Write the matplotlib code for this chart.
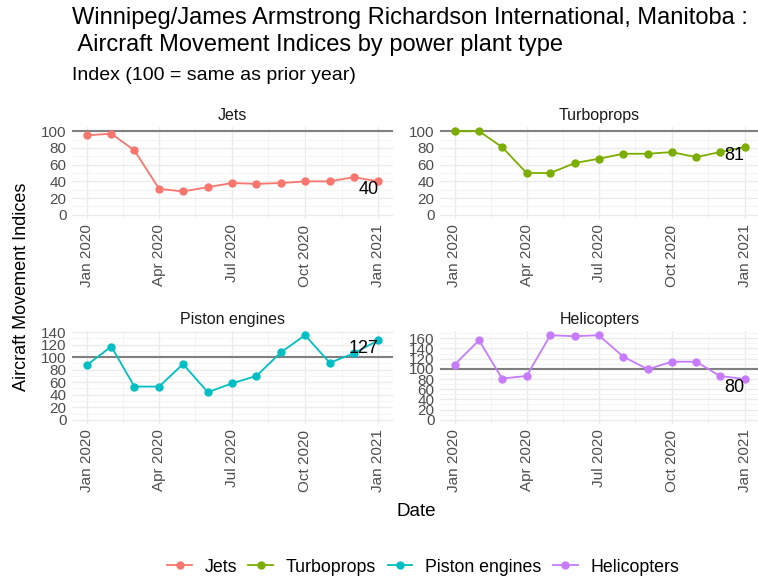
import numpy as np
import matplotlib
matplotlib.use("Agg")
import matplotlib.pyplot as plt
import matplotlib.dates as mdates
from matplotlib.lines import Line2D

plt.rcParams['font.family'] = ['Liberation Sans', 'DejaVu Sans']

dates = np.array(['2020-01-01', '2020-02-01', '2020-03-01', '2020-04-01', '2020-05-01',
                  '2020-06-01', '2020-07-01', '2020-08-01', '2020-09-01', '2020-10-01',
                  '2020-11-01', '2020-12-01', '2021-01-01'], dtype='datetime64[D]')
jets = [95, 97, 77, 31, 28, 33, 38, 37, 38, 40, 40, 45, 40]
turboprops = [100, 100, 81, 50, 50, 62, 67, 73, 73, 75, 69, 75, 81]
piston = [87, 117, 53, 53, 89, 44, 58, 70, 108, 135, 91, 106, 127]
helicopters = [108, 156, 81, 86, 166, 164, 166, 124, 99, 114, 114, 86, 80]

names = ['Jets', 'Turboprops', 'Piston engines', 'Helicopters']
series = [jets, turboprops, piston, helicopters]
colors = ['#F8766D', '#7CAE00', '#00BFC4', '#C77CFF']
major_ticks = np.array(['2020-01-01', '2020-04-01', '2020-07-01', '2020-10-01', '2021-01-01'],
                       dtype='datetime64[D]')

W, H = 758, 578
fig = plt.figure(figsize=(W / 100, H / 100), dpi=100)

# panel boxes in pixels: left, top, right, bottom
boxes = [(72, 127, 393, 219), (440, 127, 759, 219),
         (72, 331, 393, 424), (440, 331, 759, 424)]

xnum = mdates.date2num(dates.astype('datetime64[s]').astype(object))
xmaj = mdates.date2num(major_ticks.astype('datetime64[s]').astype(object))
xmin = (xmaj[:-1] + xmaj[1:]) / 2
span = xnum[-1] - xnum[0]

for (l, t, r, b), name, vals, col in zip(boxes, names, series, colors):
    ax = fig.add_axes([l / W, 1 - b / H, (r - l) / W, (b - t) / H])
    lo, hi = 0, max(max(vals), 100)
    pad = (hi - lo) * 0.05
    ax.set_ylim(lo - pad, hi + pad)
    ax.set_xlim(xnum[0] - span * 0.05, xnum[-1] + span * 0.05)
    for s in ax.spines.values():
        s.set_visible(False)
    ax.set_yticks(np.arange(0, hi + pad, 20))
    ax.set_yticks(np.arange(10, hi + pad, 20), minor=True)
    ax.set_xticks(xmaj)
    ax.set_xticks(xmin, minor=True)
    ax.set_xticklabels([mdates.num2date(v).strftime('%b %Y') for v in xmaj], rotation=90)
    ax.grid(True, which='major', color='#EBEBEB', lw=1.0)
    ax.grid(True, which='minor', color='#F3F3F3', lw=0.6)
    ax.set_axisbelow(True)
    ax.tick_params(which='both', length=0, labelsize=11, colors='#4D4D4D', pad=4)
    ax.axhline(100, color='#808080', lw=1.5, zorder=1)
    ax.plot(xnum, vals, color=col, lw=1.3, marker='o', ms=5, zorder=3)
    ax.text(xnum[-1], vals[-1], str(vals[-1]), ha='right', va='top', fontsize=13, zorder=4)
    ax.set_title(name, fontsize=11.5, color='#1A1A1A', pad=5)

fig.text(72 / W, 1 - 7 / H, 'Winnipeg/James Armstrong Richardson International, Manitoba :\n Aircraft Movement Indices by power plant type',
         ha='left', va='top', fontsize=17, color='#000000', linespacing=1.3)
fig.text(72 / W, 1 - 76 / H, 'Index (100 = same as prior year)', ha='left', va='center', fontsize=14)
fig.text(22 / W, 1 - 287 / H, 'Aircraft Movement Indices', rotation=90, ha='center', va='center', fontsize=13)
fig.text(416 / W, 1 - 512 / H, 'Date', ha='center', va='center', fontsize=13.5)

handles = [Line2D([0], [0], color=c, lw=1.3, marker='o', ms=5) for c in colors]
fig.legend(handles, names, loc='center', bbox_to_anchor=(423 / W, 1 - 567 / H), ncol=4,
           frameon=False, fontsize=12.8, handlelength=1.4, columnspacing=0.65, handletextpad=0.7)

fig.savefig('out.png', dpi=100)
